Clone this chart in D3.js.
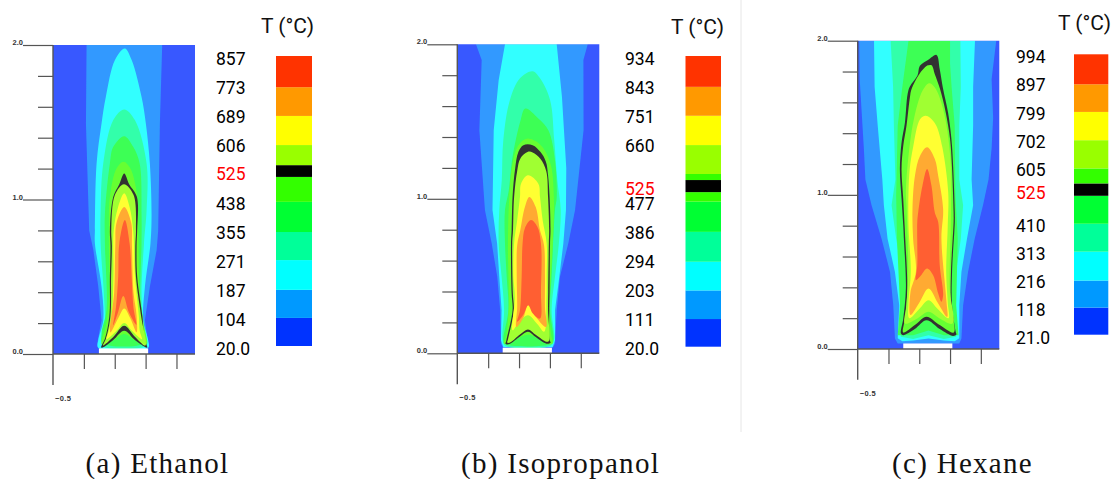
<!DOCTYPE html>
<html><head><meta charset="utf-8">
<style>html,body{margin:0;padding:0;background:#fff}svg{display:block}</style>
<script src="https://cdn.jsdelivr.net/npm/d3@7/dist/d3.min.js"></script>
</head><body><svg id="c" width="1112" height="479"></svg>
<script>
// ---- tick labels of the temperature keys (deg C) ----
const ethanolTicks = [857,773,689,606,525,438,355,271,187,104,20];
const isopropanolTicks = [934,843,751,660,525,477,386,294,203,111,20];
const hexaneTicks = [994,897,799,702,605,525,410,313,216,118,21];
const tickFormats = {20:"20.0",21:"21.0"};
// ---- colour-key band edges (deg C, low to high) ----
const ethanolEdges = [20,101,182,268,349,436,508,542,600,684,767,857];
const isopropanolEdges = [20,107,197,287,381,476,506,544,563,654,746,837,934];
const hexaneEdges = [21,115,209,309,406,503,546,598,696,794,890,994];
const ethanolKey = ["#0033ff","#0099ff","#00ffff","#00ff99","#00ff33","#33ff00","#000000","#99ff00","#ffff00","#ff9900","#ff3300"];
const isopropanolKey = ["#0033ff","#0099ff","#00ffff","#00ff99","#00ff33","#33ff00","#000000","#33ff00","#99ff00","#ffff00","#ff9900","#ff3300"];
const hexaneKey = ["#0033ff","#0099ff","#00ffff","#00ff99","#00ff33","#000000","#33ff00","#99ff00","#ffff00","#ff9900","#ff3300"];
// ---- isotherm contours: [radial offset from the flame axis, height], both in axis units ----
const ethanolContours = [
 [[-.244,2.0],[-.248,1.49],[-.227,.80],[-.2,.673],[-.168,.435],[-.147,.219],[-.175,.068],[-.17,.036],[.155,.036],[.155,.068],[.134,.219],[.166,.435],[.21,.673],[.22,.80],[.231,1.49],[.246,2.0]],
 [[.004,1.978],[-.06,1.903],[-.119,1.665],[-.147,1.492],[-.179,1.233],[-.19,.801],[-.19,.716],[-.147,.435],[-.136,.219],[-.168,.09],[-.168,.04],[.155,.04],[.155,.09],[.123,.219],[.134,.435],[.17,.716],[.177,.9],[.166,1.233],[.14,1.492],[.112,1.665],[.048,1.903]],
 [[0,1.583],[-.071,1.514],[-.136,1.233],[-.153,.932],[-.153,.716],[-.132,.392],[-.125,.198],[-.14,.09],[-.14,.05],[.13,.05],[.13,.09],[.123,.198],[.112,.392],[.128,.716],[.145,.932],[.145,1.233],[.069,1.514]],
 [[0,1.41],[-.071,1.341],[-.093,1.233],[-.125,.909],[-.125,.716],[-.115,.284],[-.147,.133],[-.14,.07],[.13,.07],[.134,.133],[.106,.284],[.112,.716],[.112,.909],[.1,1.233],[.058,1.341]],
 [[-.004,1.244],[-.05,1.2],[-.093,1.017],[-.1,.8],[-.097,.4],[-.115,.2],[-.145,.06],[-.07,.09],[0,.13],[.07,.09],[.145,.06],[.125,.2],[.1,.4],[.092,.8],[.085,1.017],[.04,1.2]],
 [[0,1.168],[-.032,1.099],[-.071,1.017],[-.093,.801],[-.089,.702],[-.093,.5],[-.097,.241],[-.125,.1],[-.149,.042],[-.132,.045],[-.071,.09],[0,.15],[.069,.09],[.134,.046],[.149,.042],[.13,.1],[.118,.241],[.084,.5],[.08,.702],[.084,.801],[.082,1.017],[.032,1.099]],
 [[-.002,1.099],[-.06,1.03],[-.084,.801],[-.08,.702],[-.085,.5],[-.09,.241],[-.118,.1],[-.137,.055],[-.071,.11],[0,.183],[.069,.112],[.137,.055],[.11,.241],[.076,.5],[.072,.702],[.076,.801],[.06,1.03]],
 [[0,1.04],[-.04,.95],[-.068,.8],[-.07,.5],[-.082,.241],[-.1,.15],[-.115,.095],[-.05,.15],[0,.2],[.05,.15],[.115,.095],[.1,.15],[.095,.241],[.07,.5],[.058,.8],[.035,.95]],
 [[0,.952],[-.05,.85],[-.058,.7],[-.065,.4],[-.09,.14],[-.04,.23],[0,.295],[.04,.23],[.08,.14],[.08,.25],[.06,.4],[.05,.7],[.045,.85]],
 [[.004,.867],[-.032,.716],[-.039,.5],[-.054,.3],[-.072,.185],[-.04,.27],[-.006,.375],[.03,.27],[.078,.19],[.06,.3],[.048,.5],[.035,.716]]
];
const isopropanolContours = [
 [[-.337,2.0],[-.30,1.898],[-.315,1.444],[-.279,.927],[-.235,.711],[-.199,.495],[-.18,.279],[-.175,.063],[-.16,.036],[.16,.036],[.175,.063],[.186,.279],[.207,.495],[.261,.711],[.305,.927],[.36,1.444],[.359,1.898],[.387,2.0]],
 [[-.149,2.0],[-.19,1.768],[-.222,1.444],[-.23,.927],[-.2,.711],[-.186,.495],[-.171,.279],[-.175,.085],[-.16,.04],[.16,.04],[.175,.085],[.175,.279],[.203,.495],[.229,.711],[.246,.927],[.248,1.2],[.22,1.66],[.186,2.0]],
 [[.03,1.826],[-.052,1.78],[-.117,1.64],[-.16,1.379],[-.17,1.12],[-.186,.927],[-.19,.711],[-.171,.495],[-.155,.279],[-.165,.095],[-.15,.05],[.15,.05],[.17,.095],[.153,.279],[.175,.495],[.2,.711],[.212,.927],[.19,1.12],[.17,1.379],[.143,1.64],[.078,1.78]],
 [[-.017,1.584],[-.05,1.5],[-.1,1.27],[-.125,1.05],[-.149,.927],[-.149,.711],[-.138,.495],[-.127,.279],[-.16,.085],[-.15,.06],[.15,.06],[.164,.085],[.143,.279],[.153,.495],[.175,.927],[.186,1.01],[.175,1.25],[.132,1.444],[.067,1.52]],
 [[-.004,1.39],[-.06,1.35],[-.1,1.23],[-.122,1.0],[-.13,.7],[-.125,.3],[-.14,.12],[-.155,.065],[-.13,.06],[-.06,.1],[0,.12],[.06,.1],[.13,.06],[.16,.065],[.15,.12],[.14,.3],[.16,.7],[.168,1.0],[.145,1.23],[.08,1.35]],
 [[-.03,1.347],[-.062,1.304],[-.084,1.19],[-.1,1.012],[-.106,.796],[-.11,.711],[-.106,.387],[-.1,.279],[-.14,.085],[-.145,.06],[-.12,.06],[-.05,.11],[0,.139],[.05,.105],[.12,.062],[.147,.07],[.14,.085],[.138,.279],[.14,.4],[.143,.711],[.146,.796],[.14,1.012],[.13,1.152],[.116,1.24],[.08,1.304],[.03,1.347]],
 [[0,1.304],[-.05,1.26],[-.07,1.18],[-.09,1.01],[-.097,.796],[-.102,.711],[-.098,.387],[-.092,.279],[-.13,.09],[-.135,.07],[-.12,.068],[-.05,.123],[0,.154],[.05,.12],[.12,.075],[.135,.08],[.13,.279],[.131,.4],[.135,.711],[.137,.796],[.13,1.012],[.118,1.18],[.08,1.26],[.03,1.3]],
 [[0,1.152],[-.045,1.098],[-.052,1.012],[-.07,.861],[-.09,.711],[-.095,.5],[-.085,.36],[-.1,.149],[-.06,.2],[0,.247],[.06,.19],[.105,.14],[.12,.36],[.121,.5],[.121,.711],[.095,.861],[.078,1.012],[.067,1.098]],
 [[.009,1.012],[-.02,.947],[-.05,.796],[-.07,.7],[-.073,.5],[-.07,.3],[-.075,.17],[-.03,.23],[0,.311],[.04,.25],[.117,.17],[.11,.3],[.11,.5],[.104,.7],[.078,.796],[.05,.947]],
 [[.02,.862],[-.02,.81],[-.035,.711],[-.041,.495],[-.052,.279],[-.07,.205],[-.03,.25],[.002,.311],[.03,.26],[.078,.225],[.084,.4],[.084,.711],[.06,.82]]
];
const hexaneContours = [
 [[-.45,2.0],[-.447,1.75],[-.42,1.3],[-.41,1.1],[-.37,.932],[-.305,.716],[-.25,.5],[-.229,.284],[-.218,.068],[-.2,.036],[.2,.036],[.214,.068],[.225,.284],[.257,.5],[.30,.716],[.354,.932],[.39,1.1],[.41,1.3],[.42,1.5],[.41,1.75],[.44,2.0]],
 [[-.354,2.0],[-.35,1.7],[-.33,1.45],[-.3,1.1],[-.29,.932],[-.266,.716],[-.218,.5],[-.19,.284],[-.2,.07],[-.17,.05],[-.1,.055],[0,.068],[.1,.055],[.17,.05],[.2,.07],[.2,.284],[.214,.5],[.25,.716],[.29,.932],[.28,1.1],[.29,1.45],[.29,1.7],[.302,2.0]],
 [[-.246,2.0],[-.23,1.7],[-.225,1.45],[-.215,1.1],[-.24,.932],[-.21,.716],[-.175,.5],[-.165,.284],[-.18,.08],[-.1,.065],[0,.09],[.1,.065],[.18,.08],[.17,.284],[.18,.5],[.21,.716],[.225,.932],[.2,1.1],[.2,1.45],[.21,1.7],[.207,2.0]],
 [[-.13,2.0],[-.15,1.85],[-.17,1.7],[-.2,1.45],[-.21,1.0],[-.205,.716],[-.185,.284],[-.2,.09],[-.1,.09],[0,.12],[.1,.09],[.195,.09],[.18,.284],[.19,.716],[.175,1.0],[.17,1.45],[.15,1.7],[.14,1.85],[.14,2.0]],
 [[.052,1.908],[.004,1.88],[-.056,1.837],[-.071,1.776],[-.121,1.703],[-.136,1.653],[-.153,1.47],[-.175,1.34],[-.186,1.167],[-.175,.973],[-.164,.8],[-.16,.716],[-.147,.392],[-.164,.198],[-.179,.1],[-.165,.09],[-.089,.13],[-.013,.187],[.073,.13],[.16,.085],[.181,.094],[.177,.11],[.153,.284],[.153,.5],[.171,.824],[.171,.886],[.16,1.189],[.149,1.362],[.127,1.534],[.095,1.686],[.073,1.815]],
 [[-.004,1.84],[-.06,1.783],[-.11,1.686],[-.121,1.63],[-.143,1.448],[-.164,1.318],[-.175,1.167],[-.164,.973],[-.155,.8],[-.151,.716],[-.138,.392],[-.153,.198],[-.164,.107],[-.089,.155],[-.013,.21],[.073,.155],[.164,.107],[.146,.284],[.146,.5],[.163,.824],[.163,.886],[.152,1.189],[.14,1.362],[.112,1.534],[.075,1.686],[.041,1.783],[.02,1.84]],
 [[.004,1.724],[-.039,1.675],[-.095,1.49],[-.132,1.232],[-.147,1.016],[-.143,.932],[-.132,.5],[-.143,.284],[-.153,.165],[-.07,.2],[0,.241],[.07,.2],[.156,.165],[.138,.392],[.145,.824],[.143,1.232],[.095,1.556],[.041,1.696]],
 [[-.02,1.513],[-.055,1.49],[-.1,1.308],[-.122,1.167],[-.13,1.016],[-.13,.8],[-.115,.5],[-.13,.3],[-.125,.2],[-.06,.26],[0,.317],[.06,.26],[.13,.2],[.125,.3],[.115,.5],[.125,.8],[.128,1.016],[.09,1.308],[.05,1.45],[.01,1.5]],
 [[-.009,1.308],[-.056,1.25],[-.088,1.124],[-.104,.908],[-.1,.716],[-.082,.5],[-.117,.37],[-.117,.22],[-.06,.3],[0,.392],[.06,.3],[.121,.208],[.117,.306],[.084,.716],[.095,.908],[.063,1.124],[.041,1.232]],
 [[-.009,1.167],[-.039,1.06],[-.067,.886],[-.073,.824],[-.073,.543],[-.082,.446],[-.056,.468],[-.009,.522],[.03,.478],[.063,.36],[.084,.306],[.095,.35],[.073,.543],[.063,.824],[.041,.886],[.019,1.06]]
];
const panelAColors = ["#3399ff","#33ffff","#33ffaa","#3cff55","#66ff33","#333333","#a0ff33","#ffff33","#ffaa33","#ff5f33"];
const panelCColors = ["#3399ff","#33ffff","#33ffaa","#3cff55","#333333","#66ff33","#a0ff33","#ffff33","#ffaa33","#ff5f33"];
const backgroundColor = "#3858ff";
const captions = ["(a) Ethanol","(b) Isopropanol","(c) Hexane"];
const keyTitle = "T (°C)";
const yMinor = [.2,.4,.6,.8,1.2,1.4,1.6,1.8];
const yMajor = [0,1,2];
const xTicks = [-.3,-.1,.1,.3];
const burner = [-.164,.155,.036];

const svg = d3.select("#c");
const axisColor = "#555";
const soft = svg.append("defs").append("filter").attr("id","soft")
  .attr("x","-5%").attr("y","-5%").attr("width","110%").attr("height","110%");
soft.append("feGaussianBlur").attr("stdDeviation",.45);
const panels = [
 {x0:53,x1:195,bot:354,top:45,center:-.0385,contours:ethanolContours,colors:panelAColors,
  ticks:ethanolTicks,edges:ethanolEdges,key:ethanolKey,barX:276,barW:36,barBot:346,barTop:56,labX:216,labBot:349,labTop:59,titleX:261,titleY:33,capX:157.5},
 {x0:457.3,x1:599.3,bot:353.3,top:44.3,center:-.042,contours:isopropanolContours,colors:panelAColors,
  ticks:isopropanolTicks,edges:isopropanolEdges,key:isopropanolKey,barX:685.5,barW:35.5,barBot:346.7,barTop:56,labX:625,labBot:349,labTop:59,titleX:671,titleY:34,capX:560.5},
 {x0:857.7,x1:999.3,bot:349,top:40.7,center:-.04,contours:hexaneContours,colors:panelCColors,
  ticks:hexaneTicks,edges:hexaneEdges,key:hexaneKey,barX:1074,barW:34.3,barBot:334.7,barTop:54.3,labX:1016,labBot:338,labTop:57,titleX:1058,titleY:30,capX:962.5}
];

panels.forEach((p,i)=>{
  const x = d3.scaleLinear().domain([-.5,.42]).range([p.x0,p.x1]);
  const y = d3.scaleLinear().domain([0,2]).range([p.bot,p.top]);
  const g = svg.append("g");
  const id = "clip"+i;
  g.append("clipPath").attr("id",id).append("rect")
    .attr("x",x(-.5)).attr("y",y(2)).attr("width",x(.42)-x(-.5)).attr("height",y(0)-y(2));
  const clipped = g.append("g").attr("clip-path",`url(#${id})`);
  const plot = clipped.append("g").attr("filter","url(#soft)");
  plot.append("rect").attr("x",x(-.5)-4).attr("y",y(2)-4).attr("width",x(.42)-x(-.5)+8).attr("height",y(0)-y(2)+8).attr("fill",backgroundColor);
  const base = d3.line().x(d=>x(p.center+d[0])).y(d=>y(d[1]));
  // contours cut by the top of the frame keep their corners; closed isotherms are smoothed
  const pathOf = pts => base.curve(d3.max(pts,d=>d[1])>=2 ? d3.curveLinearClosed : d3.curveCatmullRomClosed.alpha(.5))(pts);
  plot.selectAll("path.level").data(p.contours).join("path").attr("class","level")
    .attr("d",pathOf).attr("fill",(d,j)=>p.colors[j]);
  plot.append("rect").attr("x",x(p.center+burner[0])).attr("width",x(burner[1])-x(burner[0]))
    .attr("y",y(burner[2])).attr("height",y(0)-y(burner[2])+4).attr("fill","#fff");

  // axes
  const style = a => { a.selectAll("line").attr("stroke",axisColor).attr("stroke-width",1.2); a.selectAll("path").remove(); a.selectAll("text").remove(); };
  g.append("g").attr("transform",`translate(${x(-.5)},0)`).call(d3.axisLeft(y).tickValues(yMinor).tickSize(15).tickFormat("")).call(style);
  g.append("g").attr("transform",`translate(${x(-.5)},0)`).call(d3.axisLeft(y).tickValues(yMajor).tickSize(30).tickFormat("")).call(style);
  g.append("g").attr("transform",`translate(0,${y(0)})`).call(d3.axisBottom(x).tickValues(xTicks).tickSize(15).tickFormat("")).call(style);
  g.append("line").attr("x1",x(-.5)).attr("x2",x(-.5)).attr("y1",y(2)).attr("y2",y(-.2)).attr("stroke",axisColor).attr("stroke-width",1.4);
  g.append("line").attr("x1",x(-.5)).attr("x2",x(.42)).attr("y1",y(0)).attr("y2",y(0)).attr("stroke",axisColor).attr("stroke-width",1.4);
  g.selectAll("text.ylab").data(yMajor).join("text").attr("class","ylab")
    .attr("x",x(-.5)-30).attr("y",d=>y(d)).attr("text-anchor","end")
    .attr("font-family","Liberation Sans").attr("font-size",7.5).attr("font-weight","bold").attr("fill","#333")
    .text(d=>d3.format(".1f")(d));
  g.append("text").attr("x",x(-.5)+2).attr("y",y(-.305)).attr("font-family","Liberation Sans").attr("font-size",7.5)
    .attr("font-weight","bold").attr("fill","#333").attr("letter-spacing",.4).text("−0.5");

  // colour key
  const tBar = d3.scaleLinear().domain([p.edges[0],p.edges[p.edges.length-1]]).range([p.barBot,p.barTop]);
  g.selectAll("rect.band").data(p.key).join("rect").attr("class","band")
    .attr("x",p.barX).attr("width",p.barW)
    .attr("y",(d,j)=>tBar(p.edges[j+1])).attr("height",(d,j)=>tBar(p.edges[j])-tBar(p.edges[j+1]))
    .attr("fill",d=>d);
  const tLab = d3.scaleLinear().domain([p.ticks[p.ticks.length-1],p.ticks[0]]).range([p.labBot,p.labTop]);
  g.selectAll("text.klab").data(p.ticks).join("text").attr("class","klab")
    .attr("x",p.labX).attr("y",d=>tLab(d)+6.2)
    .attr("font-family","Roboto").attr("font-size",17.5).attr("font-weight",400)
    .attr("fill",d=>d===525?"#ff0000":"#000")
    .text(d=>tickFormats[d]||d);
  g.append("text").attr("x",p.titleX).attr("y",p.titleY).attr("font-family","Roboto").attr("font-size",21).attr("fill","#111").text(keyTitle);
  g.append("text").attr("x",p.capX).attr("y",473).attr("text-anchor","middle").attr("font-family","Liberation Serif")
    .attr("font-size",29).attr("letter-spacing",1.3).attr("fill","#111").text(captions[i]);
});
svg.append("line").attr("x1",741).attr("x2",741).attr("y1",0).attr("y2",432).attr("stroke","#e6e6e6").attr("stroke-width",1);
</script></body></html>
